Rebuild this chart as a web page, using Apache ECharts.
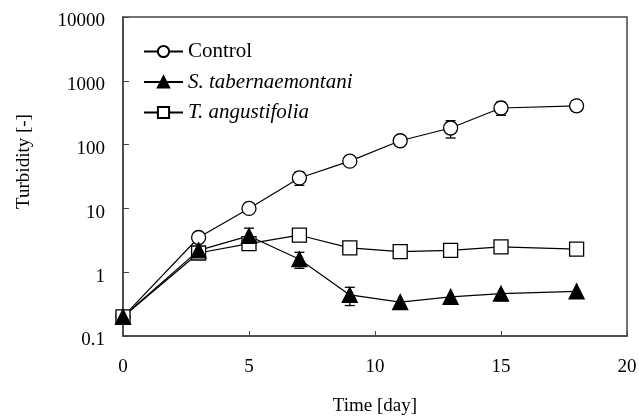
<!DOCTYPE html>
<html>
<head>
<meta charset="utf-8">
<script src="https://cdn.jsdelivr.net/npm/echarts@6/dist/echarts.min.js"></script>
<style>html,body{margin:0;padding:0;background:#fff;}#c{width:639px;height:416px;}</style>
</head>
<body>
<div id="c"></div>
<script>
const days = [0, 3, 5, 7, 9, 11, 13, 15, 18];
const control = [0.2, 3.5, 10, 30, 55, 115, 182, 375, 405];
const sTab = [0.2, 2.2, 3.7, 1.6, 0.44, 0.34, 0.41, 0.46, 0.5];
const tAng = [0.2, 2.0, 2.8, 3.8, 2.4, 2.1, 2.2, 2.5, 2.3];
const controlSD = [0, 0.4, 0, 7, 0, 0, 55, 87, 70];
const sTabSD = [0, 0.3, 1.2, 0.45, 0.14, 0, 0, 0, 0];
const tAngSD = [0, 0.2, 0.3, 0, 0, 0, 0, 0, 0];
const xTicks = [0, 5, 10, 15, 20];
const yTicks = [0.1, 1, 10, 100, 1000, 10000];
const seriesNames = ['Control', 'S. tabernaemontani', 'T. angustifolia'];

const FONT = '"Liberation Serif", "Times New Roman", serif';

function pts(vals) { return days.map((d, i) => [d, vals[i]]); }
function errData(vals, sd) {
  const out = [];
  days.forEach((d, i) => { if (sd[i] > 0) out.push([d, vals[i] - sd[i], vals[i] + sd[i]]); });
  return out;
}
function renderErr(params, api) {
  const x = api.value(0);
  const lo = api.coord([x, api.value(1)]);
  const hi = api.coord([x, api.value(2)]);
  const w = 5;
  const st = { stroke: '#000', lineWidth: 1.3 };
  return {
    type: 'group',
    children: [
      { type: 'line', shape: { x1: lo[0], y1: lo[1], x2: hi[0], y2: hi[1] }, style: st },
      { type: 'line', shape: { x1: hi[0] - w, y1: hi[1], x2: hi[0] + w, y2: hi[1] }, style: st },
      { type: 'line', shape: { x1: lo[0] - w, y1: lo[1], x2: lo[0] + w, y2: lo[1] }, style: st }
    ]
  };
}
function errSeries(vals, sd) {
  return {
    type: 'custom', renderItem: renderErr, data: errData(vals, sd),
    encode: { x: 0, y: [1, 2] }, z: 1, clip: false, silent: true
  };
}
function lineSeries(name, vals, symbol, size, fill) {
  return {
    name: name, type: 'line', data: pts(vals), symbol: symbol, symbolSize: size,
    showAllSymbol: true, clip: false, z: 3,
    lineStyle: { color: '#000', width: 1.2 },
    itemStyle: { color: fill, borderColor: '#000', borderWidth: 1.3 },
    emphasis: { disabled: true }
  };
}

const chart = echarts.init(document.getElementById('c'), null, { renderer: 'canvas' });
chart.setOption({
  animation: false,
  backgroundColor: '#fff',
  textStyle: { fontFamily: FONT },
  grid: { left: 123, right: 12, top: 17, bottom: 80, outerBoundsMode: 'none', containLabel: false,
    show: true, borderColor: '#444', borderWidth: 1.5, backgroundColor: 'transparent' },
  legend: {
    orient: 'vertical', left: 138, top: 36, itemWidth: 39, itemHeight: 14, itemGap: 9.5,
    data: [
      { name: seriesNames[0], textStyle: { fontStyle: 'normal' } },
      { name: seriesNames[1], textStyle: { fontStyle: 'italic' } },
      { name: seriesNames[2], textStyle: { fontStyle: 'italic' } }
    ],
    textStyle: { fontFamily: FONT, fontSize: 21, color: '#000', lineHeight: 21 }
  },
  xAxis: {
    type: 'value', min: xTicks[0], max: xTicks[xTicks.length - 1], interval: 5,
    name: 'Time [day]', nameLocation: 'middle', nameGap: 61,
    nameTextStyle: { fontFamily: FONT, fontSize: 19, color: '#000' },
    axisLine: { show: true, lineStyle: { color: '#444', width: 1.5 } },
    axisTick: { show: true, inside: true, length: 5, lineStyle: { color: '#444' } },
    axisLabel: { fontFamily: FONT, fontSize: 19, color: '#000', margin: 22 },
    splitLine: { show: false }
  },
  yAxis: {
    type: 'log', logBase: 10, min: yTicks[0], max: yTicks[yTicks.length - 1],
    name: 'Turbidity [-]', nameLocation: 'middle', nameGap: 89,
    nameTextStyle: { fontFamily: FONT, fontSize: 19, color: '#000', padding: [0, 0, 0, 30] },
    axisLine: { show: true, lineStyle: { color: '#444', width: 1.5 } },
    axisTick: { show: true, inside: true, length: 6, lineStyle: { color: '#444' } },
    axisLabel: { fontFamily: FONT, fontSize: 19, color: '#000', margin: 18,
      verticalAlign: 'top', lineHeight: 9,
      formatter: function (v) { return String(+v.toPrecision(6)); } },
    splitLine: { show: false }
  },
  series: [
    errSeries(control, controlSD),
    errSeries(tAng, tAngSD),
    errSeries(sTab, sTabSD),
    lineSeries(seriesNames[0], control, 'circle', 14, '#fff'),
    lineSeries(seriesNames[2], tAng, 'rect', 14, '#fff'),
    lineSeries(seriesNames[1], sTab, 'triangle', 15, '#000')
  ]
});
</script>
</body>
</html>
